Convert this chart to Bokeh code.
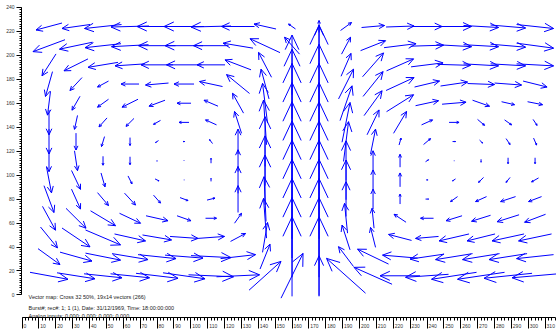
import math

from bokeh.embed import file_html
from bokeh.models import ColumnDataSource, FixedTicker, Label, Range1d
from bokeh.plotting import figure
from bokeh.resources import INLINE

# Grid of interrogation-area centres (pix)
X_COLS = [16, 32, 48, 64, 80, 96, 112, 128, 144, 160, 176, 192, 208, 224, 240, 256, 272, 288, 304]
Y_ROWS = [224, 208, 192, 176, 160, 144, 128, 112, 96, 80, 64, 48, 32, 16]

# Horizontal velocity component, one row per Y_ROWS entry (m/s)
U = [
    [-2.6, -2.8, -3.7, -3.8, -4.0, -4.0, -4.0, -3.3, -2.2, -0.7, 0.0, 1.1, 2.3, 2.8, 3.0, 3.5, 3.5, 3.5, 3.7],
    [-3.2, -3.3, -3.6, -3.7, -3.7, -3.8, -3.5, -3.0, -3.0, -1.5, 0.0, 0.9, 2.5, 3.2, 3.3, 3.5, 3.5, 3.5, 3.7],
    [-1.4, -2.4, -3.0, -3.0, -3.2, -3.5, -2.8, -2.6, -1.3, 0.0, 0.0, 1.0, 2.1, 2.7, 3.2, 3.3, 3.5, 3.5, 3.7],
    [-0.7, -1.2, -1.1, -1.8, -2.3, -2.0, -2.3, -2.3, -0.8, 0.0, 0.0, 1.5, 2.0, 2.8, 2.5, 2.7, 2.7, 2.7, 2.4],
    [-0.3, -0.8, -1.1, -1.6, -1.6, -1.4, -1.4, -1.1, -0.5, 0.0, 0.0, 1.2, 1.8, 2.7, 2.3, 2.4, 1.7, 1.3, 1.5],
    [0.0, -0.3, -0.8, -0.8, -0.7, -1.0, -1.1, -0.7, -0.3, 0.0, 0.0, 0.8, 1.2, 1.3, 1.1, 1.0, 0.7, 0.7, 0.4],
    [0.0, 0.0, -0.3, 0.0, -0.3, -0.2, -0.3, 0.0, 0.0, 0.0, 0.0, 0.5, 0.5, 0.2, 0.7, 0.3, 0.3, 0.4, 0.3],
    [0.0, 0.3, 0.0, 0.0, 0.0, 0.0, 0.0, 0.0, 0.0, 0.0, 0.0, 0.0, 0.0, 0.0, 0.3, 0.05, 0.0, 0.0, 0.0],
    [0.5, 0.9, 0.4, 0.4, 0.4, 0.05, 0.0, 0.0, 0.0, 0.0, 0.0, 0.0, 0.0, 0.0, 0.2, -0.3, -0.5, -0.4, -0.7],
    [1.0, 0.9, 1.1, 1.1, 0.7, 0.8, 0.8, 0.0, -0.2, 0.0, 0.0, 0.0, 0.0, 0.0, 0.3, -0.7, -1.1, -1.5, -1.3],
    [1.3, 2.0, 2.5, 2.1, 2.2, 1.4, 1.1, 0.7, -0.3, 0.0, 0.0, -0.3, -0.2, -1.2, -1.3, -1.6, -1.9, -2.2, -2.1],
    [1.7, 2.8, 3.5, 3.1, 2.9, 2.8, 2.7, 1.5, 0.5, 0.0, 0.0, -0.8, -0.5, -2.3, -2.3, -3.0, -2.8, -3.2, -3.3],
    [2.2, 3.2, 3.5, 3.6, 3.8, 3.8, 4.0, 3.5, 1.0, 0.0, 0.0, -1.5, -3.1, -3.5, -3.4, -3.7, -3.7, -3.8, -3.7],
    [3.8, 3.8, 3.8, 3.9, 4.2, 4.2, 4.5, 4.3, 3.2, 2.2, 0.0, -3.9, -3.8, -4.0, -4.3, -4.5, -4.7, -4.8, -4.6],
]

# Vertical velocity component (m/s)
V = [
    [-0.7, -0.4, -0.4, -0.1, 0.0, 0.0, -0.1, 0.0, 0.5, 0.5, 1.2, 0.8, 0.2, 0.1, 0.0, 0.0, -0.2, -0.3, -0.4],
    [-1.2, -0.7, -0.4, -0.2, 0.0, 0.0, 0.0, 0.5, 1.4, 1.7, 4.0, 1.7, 1.0, 0.4, 0.1, -0.2, -0.2, -0.3, -0.5],
    [-2.2, -1.2, -0.5, -0.2, 0.0, 0.0, 0.0, 1.0, 2.5, 6.0, 8.0, 2.3, 2.4, 1.2, 0.4, -0.1, -0.2, -0.2, -0.2],
    [-2.5, -1.3, -0.6, 0.0, -0.2, 0.0, 0.5, 1.9, 3.0, 7.0, 8.0, 3.0, 2.5, 1.3, 0.6, 0.4, -0.1, -0.2, -0.6],
    [-2.4, -1.4, -0.8, -0.8, -0.6, 0.0, 0.6, 2.0, 4.0, 8.0, 8.0, 3.5, 2.5, 1.7, 0.5, 0.2, -0.6, -0.3, -0.3],
    [-2.5, -1.4, -0.9, -0.8, -0.4, 0.0, 0.5, 2.2, 4.5, 8.0, 8.0, 4.0, 2.5, 2.2, 0.5, 0.0, -0.6, -0.5, -0.6],
    [-2.5, -1.7, -1.0, -0.8, -0.2, 0.0, 0.4, 2.5, 5.0, 8.0, 8.0, 4.0, 2.5, 0.7, 0.6, 0.0, -0.3, -0.6, -0.7],
    [-2.2, -2.0, -0.9, -0.8, -0.1, -0.05, 0.5, 2.2, 5.0, 8.0, 8.0, 4.0, 2.0, 1.3, 0.2, 0.0, -0.3, -0.6, -0.6],
    [-2.6, -1.9, -1.4, -0.8, -0.2, 0.0, 0.3, 2.7, 5.0, 8.0, 8.0, 4.0, 2.0, 1.4, 0.0, -0.2, -0.5, -0.5, -0.4],
    [-2.7, -2.0, -1.3, -1.2, -0.8, -0.3, 0.2, 2.7, 4.5, 8.0, 8.0, 3.5, 2.0, 1.0, 0.0, -0.5, -0.5, -0.5, -0.5],
    [-2.4, -2.0, -1.5, -1.0, -0.5, -0.5, 0.0, 1.0, 4.0, 8.0, 8.0, 3.0, 2.0, 0.8, 0.0, -0.5, -0.6, -0.7, -0.8],
    [-2.1, -1.9, -1.5, -0.7, -0.5, -0.2, 0.2, 0.8, 3.0, 8.0, 8.0, 2.5, 2.0, 0.6, -0.2, -0.7, -0.7, -0.7, -0.7],
    [-1.6, -0.9, -0.7, -0.6, -0.4, -0.3, -0.2, 0.4, 2.5, 8.0, 8.0, 2.0, 1.5, 0.3, -0.5, -0.6, -0.6, -0.6, -0.4],
    [-0.7, -0.6, -0.4, -0.4, -0.5, -0.6, -0.2, 0.2, 2.9, 4.5, 4.0, 3.5, 1.7, 0.0, -0.3, -0.7, -0.7, -0.5, -0.4],
]

Y_TICKS = list(range(0, 241, 20))
Y_MINOR = list(range(0, 241, 2))
X_TICKS = list(range(0, 311, 10))
X_MINOR = list(range(0, 317, 2))

INFO_LINES = [
    "Vector map: Cross 32 50%, 19x14 vectors (266)",
    "Burst#; rec#: 1; 1 (1), Date: 31/12/1969, Time: 18:00:00:000",
    "Analog inputs: 0.000; 0.000; 0.000; 0.000",
]
INFO_Y = [-1.8, -10.6, -17.9]

# ---- figure geometry -------------------------------------------------------
W, H = 556, 331
BORDER_L, BORDER_B = 21, 12
X0, X1 = -0.3, 316.7
Y0, Y1 = -18.8, 245.7
FRAME_W, FRAME_H = W - BORDER_L, H - BORDER_B
SX = FRAME_W / (X1 - X0)          # screen px per pix unit, horizontal
SY = FRAME_H / (Y1 - Y0)          # screen px per pix unit, vertical
VEC_PX = 10.0                      # arrow length in screen px per m/s
HEAD_FRAC = 0.27
HEAD_ANG = math.radians(25)
FONT = "Liberation Sans"
BLUE = "#0000ff"
FIG_SPACE = "\u2007"

p = figure(
    width=W, height=H,
    x_range=Range1d(X0, X1), y_range=Range1d(Y0, Y1),
    output_backend="svg", toolbar_location=None,
    min_border_left=BORDER_L, min_border_right=0,
    min_border_top=0, min_border_bottom=BORDER_B,
)
p.xgrid.visible = False
p.ygrid.visible = False
p.outline_line_color = None
p.background_fill_color = "white"
p.border_fill_color = "white"

# ---- vectors: centred on the grid point, open V head ------------------------
x0s, y0s, x1s, y1s = [], [], [], []
for r, yc in enumerate(Y_ROWS):
    for c, xc in enumerate(X_COLS):
        dxs = U[r][c] * VEC_PX
        dys = V[r][c] * VEC_PX
        L = math.hypot(dxs, dys)
        if L < 0.2:
            continue
        hx, hy = dxs / 2 / SX, dys / 2 / SY
        tx, ty = xc + hx, yc + hy
        x0s.append(xc - hx); y0s.append(yc - hy); x1s.append(tx); y1s.append(ty)
        ex, ey = -dxs / L, -dys / L
        h = HEAD_FRAC * L
        for a in (HEAD_ANG, -HEAD_ANG):
            bx = ex * math.cos(a) - ey * math.sin(a)
            by = ex * math.sin(a) + ey * math.cos(a)
            x0s.append(tx); y0s.append(ty)
            x1s.append(tx + h * bx / SX); y1s.append(ty + h * by / SY)

src = ColumnDataSource(dict(x0=x0s, y0=y0s, x1=x1s, y1=y1s))
p.segment("x0", "y0", "x1", "y1", source=src, line_color=BLUE, line_width=1)

# ---- rulers ------------------------------------------------------------------
ya = p.yaxis[0]
ya.bounds = (0, 240)
ya.ticker = FixedTicker(ticks=Y_TICKS, minor_ticks=Y_MINOR)
ya.major_tick_in = 0
ya.major_tick_out = 5
ya.minor_tick_in = 0
ya.minor_tick_out = 2
ya.major_label_standoff = 2
ya.major_label_text_font = FONT
ya.major_label_text_font_size = "5px"
ya.major_label_text_color = "#333333"
ya.axis_line_color = "black"

xa = p.xaxis[0]
xa.bounds = (0, 316)
xa.ticker = FixedTicker(ticks=X_TICKS, minor_ticks=X_MINOR)
xa.major_tick_in = 0
xa.major_tick_out = 11
xa.minor_tick_in = 0
xa.minor_tick_out = 3
xa.major_label_standoff = -6
# ruler labels sit just right of their tick mark
xa.major_label_overrides = {t: FIG_SPACE * (len(str(t)) + 1) + str(t) for t in X_TICKS}
xa.major_label_text_font = FONT
xa.major_label_text_font_size = "5px"
xa.major_label_text_color = "#333333"
xa.axis_line_color = "black"

p.add_layout(Label(x=-4.4, y=230, text="pix", text_font=FONT, text_font_size="5px",
                   text_align="center", text_baseline="middle", text_color="#333333"))

for line, ly in zip(INFO_LINES, INFO_Y):
    p.add_layout(Label(x=3.9, y=ly, text=line, text_font=FONT,
                       text_font_size="5.5px", text_baseline="middle", text_color="#222222"))

open("out.html", "w").write(file_html(p, INLINE))
